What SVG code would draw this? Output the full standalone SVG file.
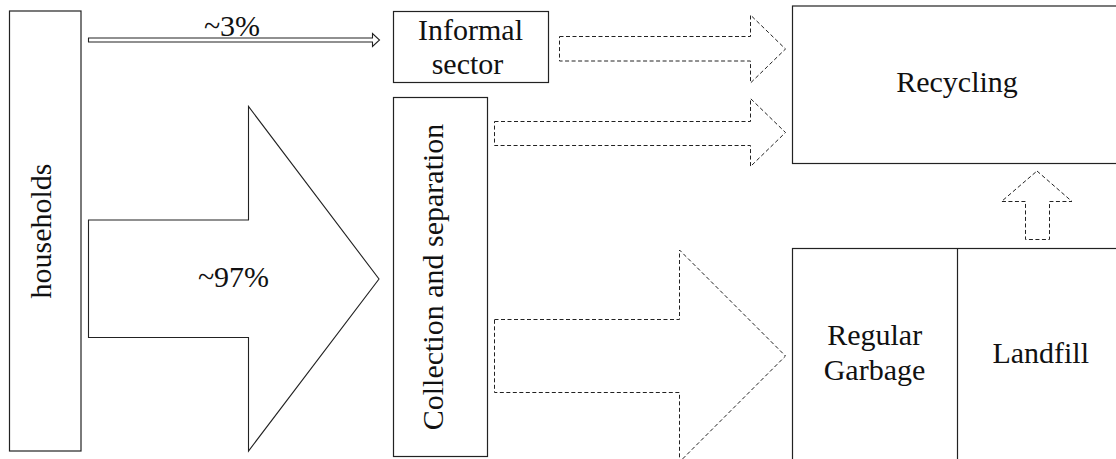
<svg xmlns="http://www.w3.org/2000/svg" width="1116" height="459" viewBox="0 0 1116 459">
<style>
.box{fill:#fff;stroke:#222;stroke-width:1.2}
.solid{fill:#fff;stroke:#222;stroke-width:1.1}
.dash{fill:#fff;stroke:#222;stroke-width:1;stroke-dasharray:4 2.5}
</style>
<rect width="1116" height="459" fill="#fff"/>
<g id="connectors">
<polygon class="solid" points="88.5,38 372.5,38 372.5,33.5 379.5,40 372.5,46.5 372.5,42 88.5,42"/>
<polygon class="solid" points="88.5,220 248.5,220 248.5,106.5 379,279 248.5,451 248.5,337.5 88.5,337.5"/>
<polygon class="dash" points="559.5,36.5 750.5,36.5 750.5,15 785.5,49 750.5,83 750.5,61 559.5,61"/>
<polygon class="dash" points="494.5,121.5 750.5,121.5 750.5,98.5 785.5,132.5 750.5,166.5 750.5,145.5 494.5,145.5"/>
<polygon class="dash" points="494.5,319.5 679.5,319.5 679.5,250 785.5,356 679.5,462 679.5,392.5 494.5,392.5"/>
<polygon class="dash" points="1037,171 1072,201.5 1049.5,201.5 1049.5,239.5 1025.5,239.5 1025.5,201.5 1001.5,201.5"/>
<text font-family="'Liberation Serif'" font-size="30" fill="#111" text-anchor="middle" x="232" y="36">~3%</text>
<text font-family="'Liberation Serif'" font-size="30" fill="#111" text-anchor="middle" x="233.5" y="287">~97%</text>
</g>
<g id="households">
<rect class="box" x="9.5" y="11" width="71.5" height="440"/>
<text font-family="'Liberation Serif'" font-size="30" fill="#111" text-anchor="middle" transform="translate(51,231) rotate(-90)">households</text>
</g>
<g id="informal">
<rect class="box" x="393.5" y="11.5" width="155" height="71"/>
<text font-family="'Liberation Serif'" font-size="30" fill="#111" text-anchor="middle" x="470.5" y="40">Informal</text>
<text font-family="'Liberation Serif'" font-size="30" fill="#111" text-anchor="middle" x="467.5" y="74">sector</text>
</g>
<g id="collection">
<rect class="box" x="393.5" y="97.5" width="94" height="359"/>
<text font-family="'Liberation Serif'" font-size="30" fill="#111" text-anchor="middle" transform="translate(443,277) rotate(-90)">Collection and separation</text>
</g>
<g id="recycling">
<rect class="box" x="792.5" y="6" width="330" height="157.5"/>
<text font-family="'Liberation Serif'" font-size="30" fill="#111" text-anchor="middle" x="957" y="92">Recycling</text>
</g>
<g id="garbage-landfill">
<rect class="box" x="792.5" y="248.5" width="330" height="220"/>
<line x1="957.5" y1="248.5" x2="957.5" y2="460" stroke="#222" stroke-width="1.2"/>
<text font-family="'Liberation Serif'" font-size="30" fill="#111" text-anchor="middle" x="874.7" y="345">Regular</text>
<text font-family="'Liberation Serif'" font-size="30" fill="#111" text-anchor="middle" x="874.5" y="380">Garbage</text>
<text font-family="'Liberation Serif'" font-size="30" fill="#111" text-anchor="middle" x="1040.7" y="363">Landfill</text>
</g>
</svg>
